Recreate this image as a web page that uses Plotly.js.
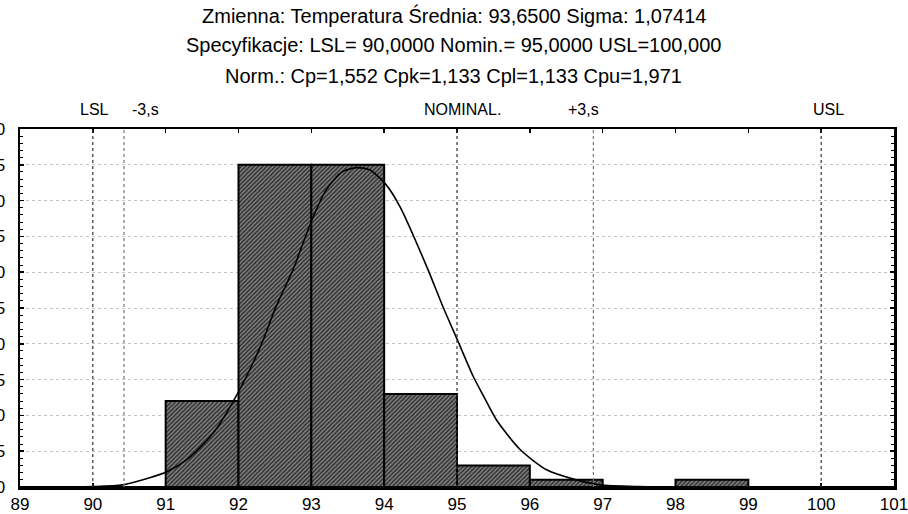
<!DOCTYPE html>
<html>
<head>
<meta charset="utf-8">
<script src="https://cdn.plot.ly/plotly-3.0.1.min.js"></script>
<style>html,body{margin:0;padding:0;background:#fff;}#chart{width:908px;height:514px;}</style>
</head>
<body>
<div id="chart"></div>
<script>
// Histogram bins (lower edges) and counts
const binStarts = [89, 90, 91, 92, 93, 94, 95, 96, 97, 98, 99, 100];
const binCounts = [0, 0, 12, 45, 45, 13, 3, 1, 0, 1, 0, 0];

// Fitted normal curve
const curveX = [89, 89.5, 90.0, 90.41, 90.78, 91.01, 91.3, 91.65, 92.0, 92.3, 92.52, 92.75, 93.02, 93.21, 93.42, 93.62, 93.8, 94.02, 94.22, 94.6, 94.81, 95.02, 95.22, 95.38, 95.54, 95.87, 96.23, 96.6, 96.96, 97.5, 98, 99, 100, 101];
const curveY = [0, 0, 0.05, 0.3, 1.3, 2.1, 3.9, 7.5, 13.3, 19.6, 25.3, 30.4, 37.6, 41.6, 44.0, 44.6, 44.3, 42.3, 39.1, 30.4, 25.1, 20.2, 15.5, 12.4, 9.4, 5.2, 2.4, 1.1, 0.3, 0.05, 0, 0, 0, 0];

// Specification and statistics
const meanVal = 93.65;
const sigmaVal = 1.07414;
const LSL = 90, NOMINAL = 95, USL = 100;
const refLabels = ["LSL", "-3,s", "NOMINAL.", "+3,s", "USL"];
const titleLines = [
  "Zmienna: Temperatura Średnia: 93,6500 Sigma: 1,07414",
  "Specyfikacje: LSL= 90,0000 Nomin.= 95,0000 USL=100,000",
  "Norm.: Cp=1,552 Cpk=1,133 Cpl=1,133 Cpu=1,971"
];
const xTicks = [89, 90, 91, 92, 93, 94, 95, 96, 97, 98, 99, 100, 101];
const yTicks = [0, 5, 10, 15, 20, 25, 30, 35, 40, 45, 50];

const binCenters = binStarts.map(b => b + 0.5);
const refX = [LSL, meanVal - 3 * sigmaVal, NOMINAL, meanVal + 3 * sigmaVal, USL];
const labelShift = [2, 22, 5, -10, 7];

const FONT = "Liberation Sans, Arial, sans-serif";

const traces = [
  {
    type: "bar",
    x: binCenters,
    y: binCounts,
    width: 1,
    marker: {
      color: "#737373",
      line: {color: "#000", width: 2},
      pattern: {shape: "/", fgcolor: "#2e2e2e", bgcolor: "#858585", size: 3, solidity: 0.5}
    },
    hoverinfo: "skip"
  },
  {
    type: "scatter",
    mode: "lines",
    x: curveX,
    y: curveY,
    line: {color: "#000", width: 1.6, shape: "spline", smoothing: 0.7},
    hoverinfo: "skip"
  }
];

const shapes = refX.map((xv, i) => ({
  type: "line", xref: "x", yref: "paper", x0: xv, x1: xv, y0: 0, y1: 1,
  line: {color: (i === 1 || i === 3) ? "#777" : "#333", width: 1.2, dash: "dot"},
  layer: "above"
}));

const annotations = [];
refLabels.forEach((t, i) => {
  annotations.push({
    text: t, xref: "x", yref: "paper", x: refX[i], y: 1, yanchor: "bottom",
    xshift: labelShift[i], yshift: 9, showarrow: false,
    font: {family: FONT, size: 16, color: "#000"}
  });
});
const titleShifts = [114, 84, 53];
titleLines.forEach((t, i) => {
  annotations.push({
    text: t, xref: "paper", yref: "paper", x: 0.496, y: 1, yanchor: "middle",
    yshift: titleShifts[i], showarrow: false,
    font: {family: FONT, size: 20, color: "#000"}
  });
});

const layout = {
  width: 908, height: 514,
  margin: {l: 20, r: 14, t: 129, b: 27, pad: 0},
  paper_bgcolor: "#fff", plot_bgcolor: "#fff",
  showlegend: false,
  bargap: 0,
  font: {family: FONT, size: 16, color: "#000"},
  xaxis: {
    range: [89, 101], tickvals: xTicks, ticktext: xTicks.map(String),
    showgrid: false, zeroline: false,
    showline: true, linecolor: "#000", linewidth: 2.5, mirror: "ticks",
    ticks: "inside", ticklen: 4, tickwidth: 1.5, tickcolor: "#000",
    ticklabeloverflow: "allow",
    tickfont: {family: FONT, size: 17, color: "#000"}
  },
  yaxis: {
    range: [0, 50], tickvals: yTicks, ticktext: yTicks.map(String),
    showgrid: true, gridcolor: "#c4c4c4", gridwidth: 1, griddash: "dot",
    zeroline: false,
    showline: true, linecolor: "#000", linewidth: 2.5, mirror: "ticks",
    ticks: "inside", ticklen: 4, tickwidth: 1.5, tickcolor: "#000",
    minor: {dtick: 1, ticks: "inside", ticklen: 3, tickwidth: 1, tickcolor: "#000", showgrid: false},
    ticklabelstandoff: 9,
    ticklabeloverflow: "allow",
    tickfont: {family: FONT, size: 17, color: "#000"}
  },
  shapes: shapes,
  annotations: annotations
};

Plotly.newPlot("chart", traces, layout, {displayModeBar: false, staticPlot: true});
</script>
</body>
</html>
